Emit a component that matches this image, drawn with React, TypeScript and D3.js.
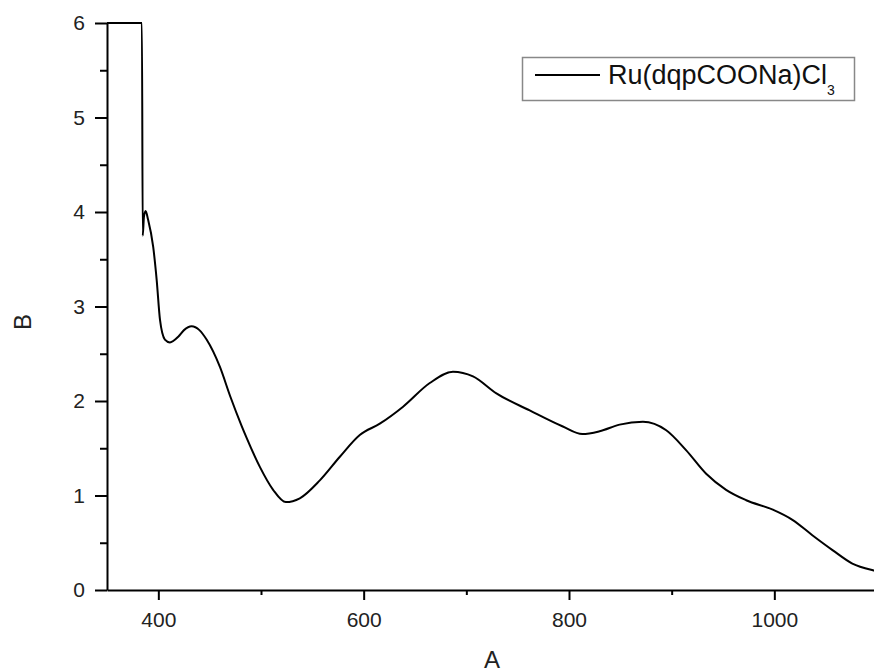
import React, { useRef, useEffect } from 'react';
import * as d3 from 'd3';

// spectrum (wavelength, absorbance)
const wavelength = [
  350, 384, 384.8, 386, 387.6, 390, 395, 398.4, 401.6, 406.4, 411.3, 419.4, 425, 432.4,
  440, 447, 460, 470, 481, 486, 499, 511.8, 524.2, 537.8, 557.3, 576.8, 596.2, 615.7,
  638.4, 664.4, 687, 706.5, 729.3, 761.7, 794, 813, 829.8, 849.3, 872, 894.7, 914,
  933.6, 953, 972.6, 998.5, 1018, 1037, 1057, 1076, 1096, 1100,
];
const absorbance = [
  6, 6, 3.75, 3.95, 4.01, 3.92, 3.63, 3.28, 2.86, 2.65, 2.62, 2.68, 2.75, 2.79,
  2.75, 2.65, 2.36, 2.05, 1.74, 1.61, 1.3, 1.06, 0.93, 0.97, 1.16, 1.41, 1.64, 1.76,
  1.94, 2.19, 2.31, 2.26, 2.08, 1.9, 1.73, 1.65, 1.68, 1.75, 1.78, 1.69, 1.48,
  1.23, 1.06, 0.95, 0.85, 0.74, 0.58, 0.42, 0.28, 0.21, 0.2,
];
const xMajor = [400, 600, 800, 1000];
const xMinor = [500, 700, 900, 1100];
const yMajor = [0, 1, 2, 3, 4, 5, 6];
const yMinor = [0.5, 1.5, 2.5, 3.5, 4.5, 5.5];
const seriesName = 'Ru(dqpCOONa)Cl';

const font = '"Liberation Sans", Arial, sans-serif';

function App() {
  const svgRef = useRef<SVGSVGElement>(null);

  useEffect(() => {
    const svg = d3.select(svgRef.current);
    svg.selectAll('*').remove();

    const x = d3.scaleLinear().domain([350, 1100]).range([107, 877]);
    const y = d3.scaleLinear().domain([0, 6]).range([590, 23]);

    const styleAxis = (g: any) => {
      g.select('.domain').attr('stroke', '#000').attr('stroke-width', 2);
      g.selectAll('.tick line').attr('stroke', '#000').attr('stroke-width', 2);
      g.selectAll('.tick text').attr('font-family', font).attr('font-size', 21).attr('fill', '#222');
    };

    // x axis
    svg.append('g')
      .attr('transform', `translate(0,${y(0)})`)
      .call(d3.axisBottom(x).tickValues(xMinor).tickSize(5).tickFormat(() => '').tickSizeOuter(0))
      .call(styleAxis);
    svg.append('g')
      .attr('transform', `translate(0,${y(0)})`)
      .call(d3.axisBottom(x).tickValues(xMajor).tickSize(10).tickPadding(12).tickFormat(d3.format('d')).tickSizeOuter(0))
      .call(styleAxis)
      .call((g: any) => g.select('.domain').remove());

    // y axis
    svg.append('g')
      .attr('transform', `translate(${x(350)},0)`)
      .call(d3.axisLeft(y).tickValues(yMinor).tickSize(7).tickFormat(() => '').tickSizeOuter(0))
      .call(styleAxis);
    svg.append('g')
      .attr('transform', `translate(${x(350)},0)`)
      .call(d3.axisLeft(y).tickValues(yMajor).tickSize(12).tickPadding(10).tickFormat(d3.format('d')).tickSizeOuter(0))
      .call(styleAxis)
      .call((g: any) => g.select('.domain').remove());

    // axis titles
    svg.append('text')
      .attr('x', x(725)).attr('y', 668)
      .attr('text-anchor', 'middle')
      .attr('font-family', font).attr('font-size', 24).attr('fill', '#222')
      .text('A');
    svg.append('text')
      .attr('transform', `translate(31,322) rotate(-90)`)
      .attr('text-anchor', 'middle')
      .attr('font-family', font).attr('font-size', 24).attr('fill', '#222')
      .text('B');

    // spectrum
    const pts = wavelength.map((w, i) => [w, absorbance[i]] as [number, number]);
    const line = d3.line<[number, number]>()
      .x(d => x(d[0]))
      .y(d => y(d[1]))
      .curve(d3.curveMonotoneX);
    svg.append('path')
      .datum(pts)
      .attr('fill', 'none')
      .attr('stroke', '#000')
      .attr('stroke-width', 2)
      .attr('stroke-linejoin', 'round')
      .attr('d', line);

    // legend
    const lg = svg.append('g');
    lg.append('rect')
      .attr('x', 522.5).attr('y', 57.5).attr('width', 332).attr('height', 43)
      .attr('fill', '#fff').attr('stroke', '#888').attr('stroke-width', 1.5);
    lg.append('line')
      .attr('x1', 535).attr('x2', 600).attr('y1', 75).attr('y2', 75)
      .attr('stroke', '#000').attr('stroke-width', 2);
    const t = lg.append('text')
      .attr('x', 608).attr('y', 84)
      .attr('font-family', font).attr('font-size', 27).attr('fill', '#111');
    t.append('tspan').text(seriesName);
    t.append('tspan').attr('font-size', 14).attr('dy', 11).text('3');
  }, []);

  return (
    <div style={{ position: 'absolute', left: 0, top: 0 }}>
      <svg ref={svgRef} width={874} height={672} style={{ display: 'block', background: '#fff' }}></svg>
    </div>
  );
}

export default App;
